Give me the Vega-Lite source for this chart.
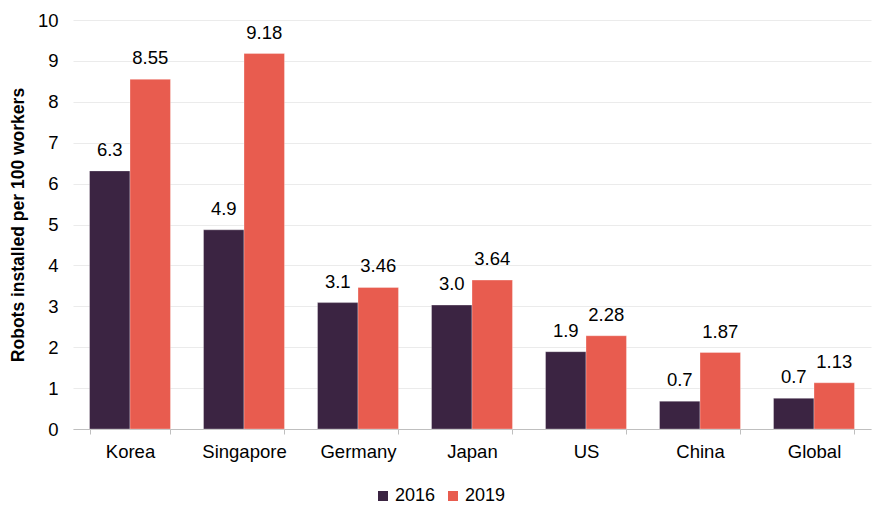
{
  "$schema": "https://vega.github.io/schema/vega-lite/v6.json",
  "width": 798,
  "height": 409,
  "autosize": {"type": "none"},
  "padding": {"left": 73, "top": 20, "right": 5, "bottom": 77},
  "data": {
    "values": [
      {"country": "Korea", "year": "2016", "value": 6.31, "label": "6.3"},
      {"country": "Korea", "year": "2019", "value": 8.55, "label": "8.55"},
      {"country": "Singapore", "year": "2016", "value": 4.87, "label": "4.9"},
      {"country": "Singapore", "year": "2019", "value": 9.18, "label": "9.18"},
      {"country": "Germany", "year": "2016", "value": 3.09, "label": "3.1"},
      {"country": "Germany", "year": "2019", "value": 3.46, "label": "3.46"},
      {"country": "Japan", "year": "2016", "value": 3.03, "label": "3.0"},
      {"country": "Japan", "year": "2019", "value": 3.64, "label": "3.64"},
      {"country": "US", "year": "2016", "value": 1.89, "label": "1.9"},
      {"country": "US", "year": "2019", "value": 2.28, "label": "2.28"},
      {"country": "China", "year": "2016", "value": 0.68, "label": "0.7"},
      {"country": "China", "year": "2019", "value": 1.87, "label": "1.87"},
      {"country": "Global", "year": "2016", "value": 0.75, "label": "0.7"},
      {"country": "Global", "year": "2019", "value": 1.13, "label": "1.13"}
    ]
  },
  "encoding": {
    "x": {
      "field": "country",
      "type": "nominal",
      "sort": null,
      "scale": {"paddingInner": 0.29, "paddingOuter": 0.145},
      "axis": {
        "title": null,
        "labelAngle": 0,
        "labelFont": "Liberation Sans",
        "labelFontSize": 18.5,
        "labelColor": "#000000",
        "labelPadding": 8,
        "tickBand": "extent",
        "tickSize": 5,
        "tickColor": "#BFBFBF",
        "domainColor": "#BFBFBF",
        "grid": false
      }
    },
    "xOffset": {"field": "year", "type": "nominal"},
    "y": {
      "field": "value",
      "type": "quantitative",
      "scale": {"domain": [0, 10], "nice": false},
      "axis": {
        "title": "Robots installed per 100 workers",
        "titleFont": "Liberation Sans",
        "titleFontSize": 17.5,
        "titleFontWeight": "bold",
        "titleColor": "#000000",
        "titlePadding": 10,
        "values": [0, 1, 2, 3, 4, 5, 6, 7, 8, 9, 10],
        "labelFont": "Liberation Sans",
        "labelFontSize": 18.5,
        "labelColor": "#000000",
        "labelPadding": 15,
        "ticks": false,
        "domain": false,
        "grid": true,
        "gridColor": "#EBEBEB",
        "gridWidth": 1
      }
    }
  },
  "layer": [
    {
      "mark": {"type": "bar", "stroke": "#ffffff", "strokeWidth": 0.5, "strokeOpacity": 0.6},
      "encoding": {
        "color": {
          "field": "year",
          "type": "nominal",
          "scale": {"domain": ["2016", "2019"], "range": ["#3B2442", "#E85C4F"]},
          "legend": {
            "title": null,
            "orient": "none",
            "direction": "horizontal",
            "legendX": 301,
            "legendY": 467,
            "symbolType": "square",
            "symbolSize": 100,
            "symbolStrokeWidth": 0,
            "labelFont": "Liberation Sans",
            "labelFontSize": 18,
            "labelColor": "#000000",
            "labelOffset": 3,
            "columnPadding": 8
          }
        }
      }
    },
    {
      "mark": {"type": "text", "baseline": "alphabetic", "dy": -15, "font": "Liberation Sans", "fontSize": 18.5, "color": "#000000"},
      "encoding": {
        "text": {"field": "label", "type": "nominal"}
      }
    }
  ],
  "config": {
    "view": {"stroke": null}
  }
}
